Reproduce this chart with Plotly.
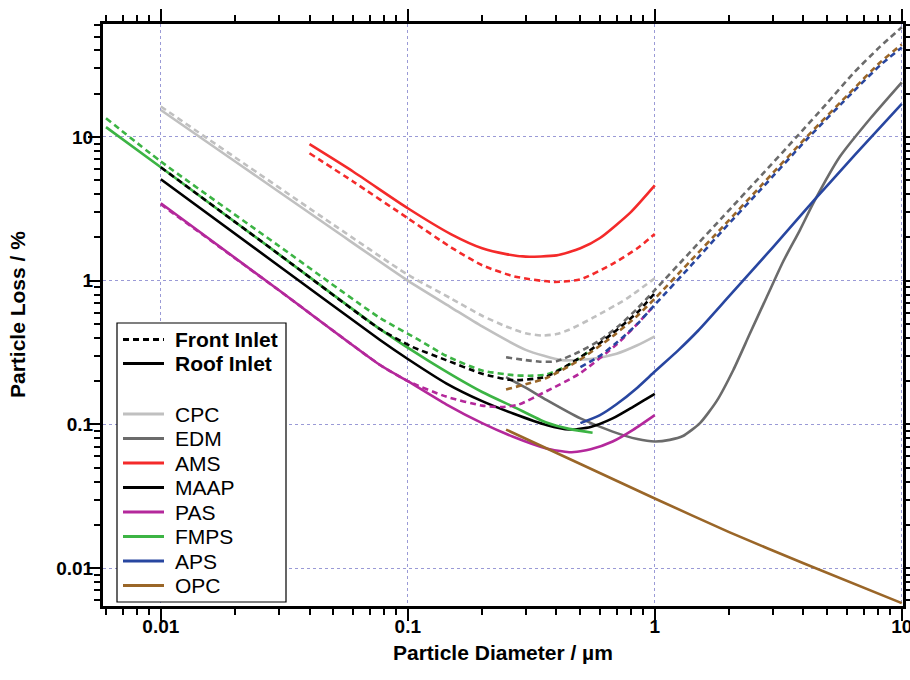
import plotly.graph_objects as go

# ---------------- data (diameter in µm, loss in %) ----------------
cpc_roof_d = [0.01, 0.02, 0.05, 0.1, 0.15, 0.2, 0.3, 0.42, 0.55, 0.7, 0.85, 1.0]
cpc_roof_v = [15.4, 6.75, 2.27, 1.0, 0.65, 0.48, 0.33, 0.28, 0.285, 0.31, 0.355, 0.41]
cpc_front_d = [0.01, 0.02, 0.05, 0.1, 0.15, 0.2, 0.25, 0.3, 0.35, 0.4, 0.45, 0.56, 0.77, 1.0]
cpc_front_v = [16.3, 7.2, 2.45, 1.1, 0.75, 0.57, 0.48, 0.43, 0.415, 0.425, 0.455, 0.55, 0.75, 1.04]

edm_roof_d = [0.25, 0.3, 0.364, 0.5, 0.675, 0.85, 1.0, 1.15, 1.3, 1.524, 1.78, 2.08, 2.43,
              2.84, 3.31, 3.87, 4.4, 5.62, 7.5, 10]
edm_roof_v = [0.213, 0.18, 0.148, 0.11, 0.089, 0.079, 0.076, 0.078, 0.083, 0.102, 0.145, 0.239, 0.43,
              0.77, 1.36, 2.25, 3.5, 7.3, 13.6, 24]
edm_front_d = [0.25, 0.3, 0.343, 0.4, 0.495, 0.6, 0.72, 0.85, 1.0, 1.4, 1.89, 2.7, 3.75,
               4.97, 6.36, 8.17, 10]
edm_front_v = [0.293, 0.28, 0.273, 0.275, 0.32, 0.385, 0.49, 0.64, 0.86, 1.6, 2.79, 5.4, 10,
               17.1, 27.7, 42.5, 58]

ams_roof_d = [0.04, 0.06, 0.1, 0.15, 0.2, 0.25, 0.3, 0.4, 0.5, 0.6, 0.8, 1.0]
ams_roof_v = [8.9, 5.75, 3.19, 2.1, 1.68, 1.53, 1.47, 1.5, 1.68, 1.98, 3.0, 4.6]
ams_front_d = [0.04, 0.06, 0.1, 0.15, 0.2, 0.27, 0.39, 0.5, 0.67, 0.85, 1.0]
ams_front_v = [7.7, 4.9, 2.72, 1.7, 1.28, 1.07, 0.98, 1.02, 1.3, 1.68, 2.11]

maap_roof_d = [0.01, 0.03, 0.0772, 0.1, 0.143, 0.2, 0.267, 0.364, 0.45, 0.55, 0.675, 0.82, 1.0]
maap_roof_v = [5.08, 1.27, 0.386, 0.285, 0.193, 0.145, 0.119, 0.099, 0.092, 0.096, 0.11, 0.133, 0.163]
maap_front_d = [0.01, 0.03, 0.0772, 0.104, 0.143, 0.2, 0.267, 0.364, 0.495, 0.675, 0.85, 1.0]
maap_front_v = [6.15, 1.53, 0.46, 0.347, 0.28, 0.225, 0.203, 0.215, 0.29, 0.43, 0.6, 0.82]

pas_roof_d = [0.01, 0.03, 0.0772, 0.1, 0.143, 0.2, 0.267, 0.364, 0.45, 0.5, 0.55, 0.675, 0.82, 1.0]
pas_roof_v = [3.46, 0.86, 0.259, 0.2, 0.138, 0.102, 0.082, 0.068, 0.064, 0.065, 0.067, 0.076, 0.092, 0.116]
pas_front_d = [0.01, 0.03, 0.0772, 0.1, 0.143, 0.2, 0.24, 0.28, 0.364, 0.495, 0.7, 0.85, 1.0]
pas_front_v = [3.4, 0.86, 0.259, 0.2, 0.156, 0.135, 0.132, 0.137, 0.17, 0.225, 0.36, 0.5, 0.68]

fmps_roof_d = [0.006, 0.01, 0.03, 0.0772, 0.12, 0.2, 0.267, 0.364, 0.45, 0.56]
fmps_roof_v = [11.7, 6.15, 1.53, 0.46, 0.28, 0.168, 0.133, 0.103, 0.093, 0.0875]
fmps_front_d = [0.006, 0.01, 0.03, 0.0772, 0.11, 0.143, 0.2, 0.267, 0.31, 0.364, 0.45, 0.56]
fmps_front_v = [13.5, 6.75, 1.75, 0.55, 0.39, 0.3, 0.237, 0.22, 0.218, 0.222, 0.26, 0.335]

aps_roof_d = [0.5, 0.6, 0.7, 0.85, 1.0, 1.25, 1.5, 2.0, 3.0, 4.4, 6.5, 10]
aps_roof_v = [0.102, 0.116, 0.138, 0.18, 0.233, 0.33, 0.45, 0.78, 1.7, 3.6, 7.6, 17]
aps_front_d = [0.5, 0.6, 0.7, 0.85, 1.0, 1.4, 1.89, 2.7, 4.12, 6.37, 8.17, 10]
aps_front_v = [0.25, 0.3, 0.37, 0.5, 0.68, 1.27, 2.25, 4.35, 9.6, 20.7, 31.5, 42]

opc_roof_d = [0.25, 0.5, 1.0, 2.0, 4.0, 10]
opc_roof_v = [0.092, 0.053, 0.0305, 0.0178, 0.0108, 0.0057]
opc_front_d = [0.25, 0.3, 0.364, 0.495, 0.675, 0.85, 1.0, 1.4, 1.89, 2.7, 4.12, 6.37, 8.17, 10]
opc_front_v = [0.175, 0.19, 0.21, 0.28, 0.41, 0.57, 0.75, 1.38, 2.38, 4.6, 10, 21.5, 33, 44]

instruments = ["CPC", "EDM", "AMS", "MAAP", "PAS", "FMPS", "APS", "OPC"]
inlet_labels = ["Front Inlet", "Roof Inlet"]
x_tick_vals = [0.01, 0.1, 1, 10]
x_tick_text = ["0.01", "0.1", "1", "10"]
y_tick_vals = [0.01, 0.1, 1, 10]
y_tick_text = ["0.01", "0.1", "1", "10"]

colors = {
    "CPC": "#c0c0c0",
    "EDM": "#6b6b6b",
    "AMS": "#f42a2a",
    "MAAP": "#000000",
    "PAS": "#b4289b",
    "FMPS": "#3cb444",
    "APS": "#2846a0",
    "OPC": "#9a6628",
}

roof = {
    "CPC": (cpc_roof_d, cpc_roof_v), "EDM": (edm_roof_d, edm_roof_v),
    "AMS": (ams_roof_d, ams_roof_v), "MAAP": (maap_roof_d, maap_roof_v),
    "PAS": (pas_roof_d, pas_roof_v), "FMPS": (fmps_roof_d, fmps_roof_v),
    "APS": (aps_roof_d, aps_roof_v), "OPC": (opc_roof_d, opc_roof_v),
}
front = {
    "CPC": (cpc_front_d, cpc_front_v), "EDM": (edm_front_d, edm_front_v),
    "AMS": (ams_front_d, ams_front_v), "MAAP": (maap_front_d, maap_front_v),
    "PAS": (pas_front_d, pas_front_v), "FMPS": (fmps_front_d, fmps_front_v),
    "APS": (aps_front_d, aps_front_v), "OPC": (opc_front_d, opc_front_v),
}

DASH = "6px,4px"
LW = 2.6
SMOOTH = 0.6

fig = go.Figure()
for name in instruments:
    d, v = roof[name]
    fig.add_trace(go.Scatter(x=d, y=v, mode="lines", name=name + " roof",
                             line=dict(color=colors[name], width=LW, shape="spline", smoothing=SMOOTH),
                             showlegend=False))
for name in ["CPC", "EDM", "AMS", "PAS", "FMPS", "MAAP", "APS", "OPC"]:
    d, v = front[name]
    fig.add_trace(go.Scatter(x=d, y=v, mode="lines", name=name + " front",
                             line=dict(color=colors[name], width=LW, dash=DASH, shape="spline",
                                       smoothing=SMOOTH),
                             showlegend=False))

# ---------------- layout ----------------
W, H = 910, 680
L, R, T, B = 103, 903, 24, 606


def px(x):
    return (x - L) / (R - L)


def py(y):
    return (B - y) / (B - T)


FONT = "Liberation Sans, Arial, sans-serif"
axis_common = dict(
    type="log", showline=True, linewidth=3, linecolor="black", mirror="ticks",
    ticks="outside", ticklen=12, tickwidth=2, tickcolor="black",
    showgrid=True, gridcolor="#9a9ad6", griddash="dot", gridwidth=1,
    zeroline=False, automargin=False, ticklabeloverflow="allow",
    tickfont=dict(family=FONT, size=19, color="black", weight="bold"),
    minor=dict(ticks="outside", ticklen=6, tickwidth=2, tickcolor="black",
               dtick="D1", showgrid=False),
)

fig.update_layout(
    width=W, height=H,
    margin=dict(l=L, r=W - R, t=T, b=H - B, autoexpand=False),
    paper_bgcolor="white", plot_bgcolor="white",
    showlegend=False,
    xaxis=dict(range=[-2.234, 1.005], tickvals=x_tick_vals, ticktext=x_tick_text,
               ticklabelstandoff=-11, **axis_common),
    yaxis=dict(range=[-2.264, 1.786], tickvals=y_tick_vals, ticktext=y_tick_text,
               ticklabelstandoff=-9, **axis_common),
)

annotations = [
    dict(text="Particle Diameter / µm", x=0.5, y=py(652), xref="paper", yref="paper",
         showarrow=False, xanchor="center", yanchor="middle",
         font=dict(family=FONT, size=21, color="black", weight="bold")),
    dict(text="Particle Loss / %", x=px(17), y=py(315), xref="paper", yref="paper",
         showarrow=False, xanchor="center", yanchor="middle", textangle=-90,
         font=dict(family=FONT, size=21, color="black", weight="bold")),
]
shapes = []

# legend box
shapes.append(dict(type="rect", xref="paper", yref="paper",
                   x0=px(117), x1=px(286), y0=py(602), y1=py(323),
                   line=dict(color="black", width=1.2), fillcolor="white", layer="above"))

rows = [339.5, 363.5] + [414 + 24.5 * i for i in range(len(instruments))]
entries = [(inlet_labels[0], "black", DASH, True), (inlet_labels[1], "black", "solid", True)]
entries += [(n, colors[n], "solid", False) for n in instruments]
for (label, col, dash, bold), yr in zip(entries, rows):
    shapes.append(dict(type="line", xref="paper", yref="paper",
                       x0=px(123), x1=px(164), y0=py(yr), y1=py(yr),
                       line=dict(color=col, width=3, dash=dash), layer="above"))
    annotations.append(dict(text=label, x=px(173), y=py(yr), xref="paper", yref="paper",
                            showarrow=False, xanchor="left", yanchor="middle",
                            font=dict(family=FONT, size=21, color="black",
                                      weight="bold" if bold else "normal")))

fig.update_layout(annotations=annotations, shapes=shapes)
fig.write_html("out.html", config={"displayModeBar": False},
               post_script="document.body.style.margin='0px';")
